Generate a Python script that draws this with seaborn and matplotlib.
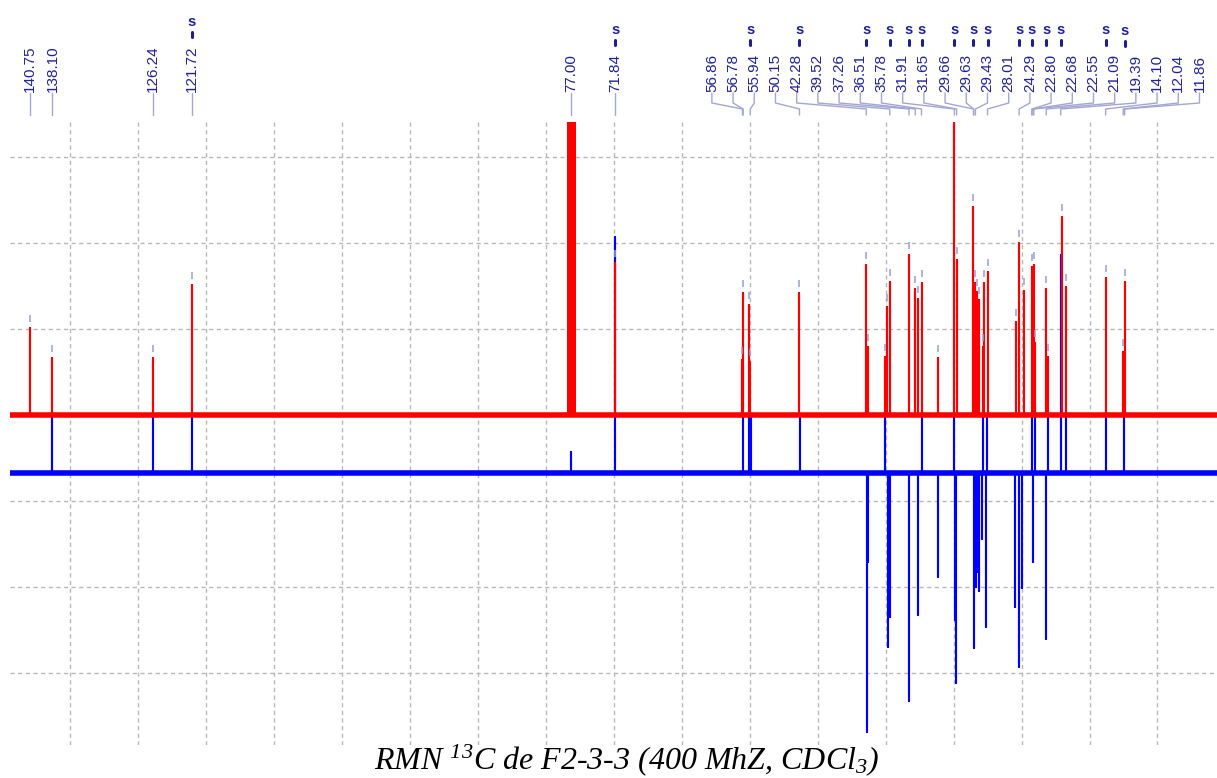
import numpy as np
import pandas as pd
import matplotlib
matplotlib.use("Agg")
import matplotlib.pyplot as plt
from matplotlib.lines import Line2D
import seaborn as sns

# ---------------- data ----------------
# labelled chemical shifts (ppm)
label_ppm = [140.75, 138.10, 126.24, 121.72, 77.00, 71.84, 56.86, 56.78, 55.94, 50.15,
             42.28, 39.52, 37.26, 36.51, 35.78, 31.91, 31.65, 29.66, 29.63, 29.43,
             28.01, 24.29, 22.80, 22.68, 22.55, 21.09, 19.39, 14.10, 12.04, 11.86]
# shifts carrying an "s" flag
s_flag_ppm = [121.72, 71.84, 55.94, 50.15, 42.28, 39.52, 37.26, 35.78, 31.91, 29.66,
              28.01, 24.29, 22.80, 21.09, 19.39, 14.10, 11.86]

# solvent (CDCl3 triplet) in the 13C spectrum
solvent_ppm = [77.32, 77.00, 76.68]
solvent_int = [420, 420, 420]

# 13C spectrum (red): peak positions and intensities
c13_ppm = [140.75, 138.10, 126.24, 121.72, 71.84,
           56.86, 56.78, 56.05, 55.94, 50.15, 42.28, 42.05, 40.05, 39.80, 39.52,
           37.26, 36.51, 36.16, 35.78, 33.84, 31.91, 31.65, 29.66, 29.43, 29.25,
           29.01, 28.57, 28.42, 28.01, 24.65, 24.29, 23.75, 22.80, 22.55, 22.40,
           21.09, 20.92, 19.27, 18.77, 14.10, 12.04, 11.86]
c13_int = [87, 57, 57, 130, 152,
           55, 122, 110, 53, 122, 150, 68, 58, 108, 133,
           160, 126, 116, 132, 57, 292, 155, 208, 132, 123,
           115, 68, 132, 143, 93, 172, 124, 148, 150, 72,
           126, 58, 198, 128, 137, 63, 133]

# DEPT-135 spectrum (blue): CH/CH3 positive, CH2 negative
dept_ppm = [138.10, 126.24, 121.72, 77.00, 71.84, 56.83, 56.05, 55.89, 50.09,
            40.08, 35.76, 31.95, 28.54, 28.03, 22.75, 22.40, 20.85, 19.39, 18.77,
            14.09, 11.97,
            42.23, 42.04, 39.69, 39.49, 37.22, 36.16, 33.88, 31.88, 31.72, 29.56,
            29.36, 29.16, 29.01, 28.66, 28.19, 24.77, 24.30, 23.91, 22.65, 21.12]
dept_int = [58, 58, 58, 21, 236, 58, 58, 58, 58,
            58, 58, 58, 58, 58, 58, 58, 58, 218, 58,
            58, 58,
            -259, -89, -174, -144, -228, -142, -104, -147, -210, -175,
            -114, -99, -118, -66, -154, -134, -194, -115, -89, -166]

caption = r"RMN $^{13}$C de F2-3-3 (400 MhZ, CDCl$_3$)"

# ---------------- style ----------------
sns.set_theme(style="white")
plt.rcParams["font.family"] = ["Liberation Sans", "DejaVu Sans"]
plt.rcParams["mathtext.fontset"] = "custom"
plt.rcParams["mathtext.rm"] = "Liberation Serif:italic"
plt.rcParams["mathtext.it"] = "Liberation Serif:italic"
plt.rcParams["mathtext.default"] = "it"

XMAX, XMIN = 143.10, 0.99
RED_BASE, BLUE_BASE = 0, -58


def stick_trace(ppm, inten, base):
    order = np.argsort(ppm)[::-1]
    xs, ys = [XMAX], [base]
    for i in order:
        xs += [ppm[i], ppm[i], ppm[i]]
        ys += [base, base + inten[i], base]
    xs.append(XMIN)
    ys.append(base)
    return pd.DataFrame({"ppm": xs, "I": ys})


fig = plt.figure(figsize=(12.17, 7.78), dpi=100)
W, H = 1217, 778
ax = fig.add_axes([10 / W, 33 / H, 1207 / W, 623 / H])

blue_df = stick_trace(dept_ppm, dept_int, BLUE_BASE)
red_df = stick_trace(c13_ppm, c13_int, RED_BASE)
solv_df = stick_trace(solvent_ppm, solvent_int, RED_BASE)

sns.lineplot(data=blue_df, x="ppm", y="I", sort=False, estimator=None,
             color="#0000ff", lw=1.5, ax=ax, zorder=3)
ax.axhline(BLUE_BASE, color="#0000ff", lw=4.0, zorder=3)
sns.lineplot(data=red_df, x="ppm", y="I", sort=False, estimator=None,
             color="#ff0000", lw=1.5, ax=ax, zorder=4)
sns.lineplot(data=solv_df, x="ppm", y="I", sort=False, estimator=None,
             color="#ff0000", lw=2.6, ax=ax, zorder=4)
ax.axhline(RED_BASE, color="#ff0000", lw=4.0, zorder=4)

# peak-pick ticks above red peaks
ax.vlines(c13_ppm, [h + 6 for h in c13_int], [h + 13 for h in c13_int],
          color="#9a9ed6", lw=1.1, zorder=5)

ax.set_xlim(XMAX, XMIN)
ax.set_ylim(-330, 293)
ax.set_xticks(np.arange(136, 7, -8))
ax.set_yticks([-258, -172, -86, 0, 86, 172, 258])
ax.set_xticklabels([])
ax.set_yticklabels([])
ax.tick_params(length=0)
ax.grid(True, ls=(0, (3, 2.5)), color="#b8b8b8", lw=1.0)
ax.set_axisbelow(True)
ax.set_xlabel("")
ax.set_ylabel("")
for s in ax.spines.values():
    s.set_visible(False)

# ---------------- peak labels ----------------
fig.canvas.draw()
renderer = fig.canvas.get_renderer()
peak_px = [ax.transData.transform((p, 0))[0] for p in label_ppm]
order = list(np.argsort(peak_px))
gap = 21.2
groups = [[peak_px[i]] for i in order]


def gstart(g):
    return np.mean(g) - (len(g) - 1) * gap / 2


merged = True
while merged:
    merged = False
    out = [groups[0]]
    for g in groups[1:]:
        prev = out[-1]
        if gstart(prev) + len(prev) * gap > gstart(g) + 1e-9:
            out[-1] = prev + g
            merged = True
        else:
            out.append(g)
    groups = out
pos_sorted = []
for g in groups:
    s0 = gstart(g)
    pos_sorted += [s0 + k * gap for k in range(len(g))]
label_px = [0] * len(label_ppm)
for k, i in enumerate(order):
    label_px[i] = pos_sorted[k]

label_col = "#20209a"
conn_col = "#a4a6d4"
texts = []
for v, lx, px in zip(label_ppm, label_px, peak_px):
    t = fig.text(lx / W, (H - 92) / H, f"{v:.2f}", rotation=90, ha="center",
                 va="bottom", fontsize=11, color=label_col)
    texts.append(t)
    xs = [lx, lx, px, px]
    ys = [93, 103, 109, 115]
    fig.add_artist(Line2D([x / W for x in xs], [(H - y) / H for y in ys],
                          transform=fig.transFigure, color=conn_col, lw=1.0))

fig.canvas.draw()
for v, t, px in zip(label_ppm, texts, peak_px):
    if v in s_flag_ppm:
        top = H - t.get_window_extent(renderer).y1
        fig.text(px / W, (H - (top - 24)) / H, "s", ha="center", va="center",
                 fontsize=10.5, fontweight="bold", color=label_col)
        fig.add_artist(Line2D([px / W, px / W],
                              [(H - (top - 14)) / H, (H - (top - 9)) / H],
                              transform=fig.transFigure, color="#1e1e8c", lw=2.2))

fig.text(0.5145, (H - 760) / H, caption, ha="center", va="center",
         fontsize=23, family="Liberation Serif", style="italic", color="black")

fig.savefig("out.png", dpi=100)
